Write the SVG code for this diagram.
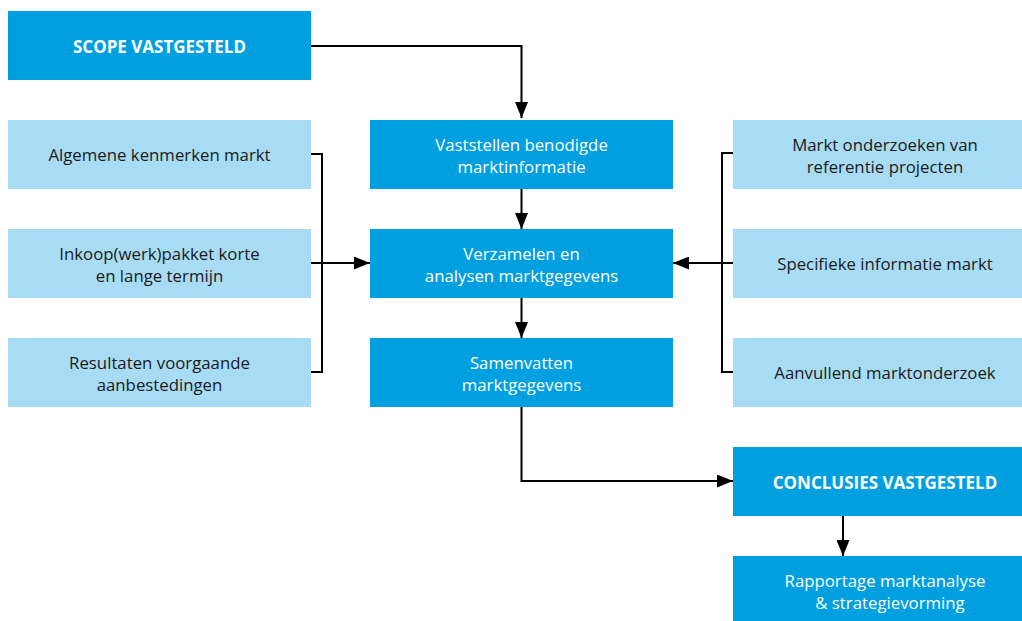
<svg xmlns="http://www.w3.org/2000/svg" width="1022" height="621" viewBox="0 0 1022 621">
  <defs>
    <marker id="arrow" markerUnits="userSpaceOnUse" markerWidth="17" markerHeight="13" refX="16" refY="6.5" orient="auto">
      <path d="M0,0 L16,6.5 L0,13 z" fill="#000"/>
    </marker>
    <style>
      .dark { fill: #009fdf; }
      .light { fill: #a8dcf5; }
      text { font-family: "Open Sans", "Noto Sans", sans-serif; font-size: 16.8px; text-anchor: middle; }
      .w { fill: #ffffff; }
      .k { fill: #1a1a1a; }
      .b { font-weight: bold; font-size: 17px; }
      .conn { fill: none; stroke: #000; stroke-width: 2; }
    </style>
  </defs>
  <rect width="1022" height="621" fill="#ffffff"/>

  <!-- connectors -->
  <g id="connectors">
    <path class="conn" d="M311,46 H521.5 V118" marker-end="url(#arrow)"/>
    <path class="conn" d="M521.5,189 V229" marker-end="url(#arrow)"/>
    <path class="conn" d="M521.5,298 V338" marker-end="url(#arrow)"/>
    <path class="conn" d="M311,154 H322 V372 H311"/>
    <path class="conn" d="M311,263 H370" marker-end="url(#arrow)"/>
    <path class="conn" d="M733,153 H722 V372 H733"/>
    <path class="conn" d="M733,263 H673" marker-end="url(#arrow)"/>
    <path class="conn" d="M521.5,407 V481 H733" marker-end="url(#arrow)"/>
    <path class="conn" d="M843,516 V556" marker-end="url(#arrow)"/>
  </g>

  <!-- start -->
  <g id="scope">
    <rect class="dark" x="8" y="11" width="303" height="69"/>
    <text class="w b" x="159.5" y="52.5">SCOPE VASTGESTELD</text>
  </g>

  <!-- left inputs -->
  <g id="algemene">
    <rect class="light" x="8" y="120" width="303" height="69"/>
    <text class="k" x="159.5" y="161">Algemene kenmerken markt</text>
  </g>
  <g id="inkoop">
    <rect class="light" x="8" y="229" width="303" height="69"/>
    <text class="k" x="159.5" y="260">Inkoop(werk)pakket korte</text>
    <text class="k" x="159.5" y="282">en lange termijn</text>
  </g>
  <g id="resultaten">
    <rect class="light" x="8" y="338" width="303" height="69"/>
    <text class="k" x="159.5" y="369">Resultaten voorgaande</text>
    <text class="k" x="159.5" y="391">aanbestedingen</text>
  </g>

  <!-- main process -->
  <g id="vaststellen">
    <rect class="dark" x="370" y="120" width="303" height="69"/>
    <text class="w" x="521.5" y="151">Vaststellen benodigde</text>
    <text class="w" x="521.5" y="173">marktinformatie</text>
  </g>
  <g id="verzamelen">
    <rect class="dark" x="370" y="229" width="303" height="69"/>
    <text class="w" x="521.5" y="260">Verzamelen en</text>
    <text class="w" x="521.5" y="282">analysen marktgegevens</text>
  </g>
  <g id="samenvatten">
    <rect class="dark" x="370" y="338" width="303" height="69"/>
    <text class="w" x="521.5" y="369">Samenvatten</text>
    <text class="w" x="521.5" y="391">marktgegevens</text>
  </g>

  <!-- right inputs -->
  <g id="referentie">
    <rect class="light" x="733" y="120" width="289" height="69"/>
    <text class="k" x="885" y="151">Markt onderzoeken van</text>
    <text class="k" x="885" y="173">referentie projecten</text>
  </g>
  <g id="specifieke">
    <rect class="light" x="733" y="229" width="289" height="69"/>
    <text class="k" x="885" y="270">Specifieke informatie markt</text>
  </g>
  <g id="aanvullend">
    <rect class="light" x="733" y="338" width="289" height="69"/>
    <text class="k" x="885" y="379">Aanvullend marktonderzoek</text>
  </g>

  <!-- end -->
  <g id="conclusies">
    <rect class="dark" x="733" y="447" width="289" height="69"/>
    <text class="w b" x="885" y="489">CONCLUSIES VASTGESTELD</text>
  </g>
  <g id="rapportage">
    <rect class="dark" x="733" y="556" width="289" height="65"/>
    <text class="w" x="885" y="587">Rapportage marktanalyse</text>
    <text class="w" x="890" y="609">&amp; strategievorming</text>
  </g>
</svg>
